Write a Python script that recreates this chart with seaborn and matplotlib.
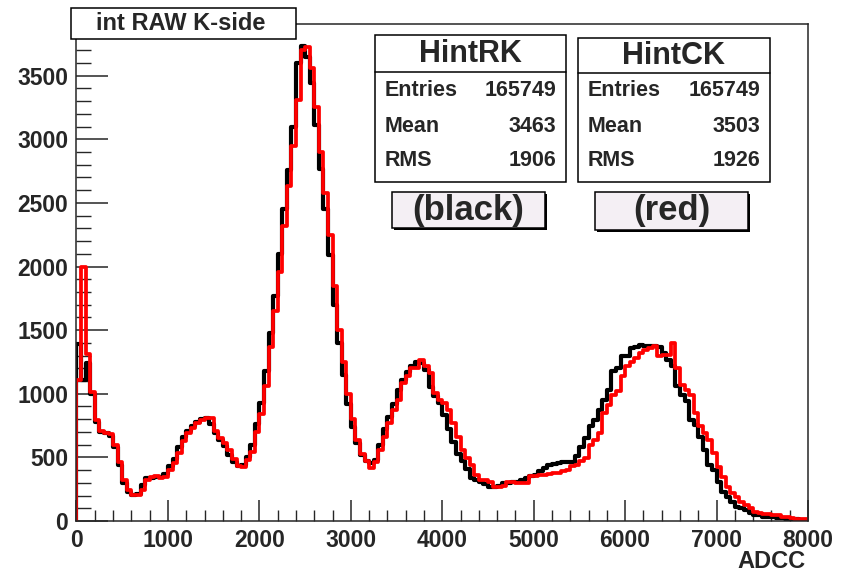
import numpy as np
import pandas as pd
import matplotlib
matplotlib.use("Agg")
import matplotlib.pyplot as plt
from matplotlib.patches import Rectangle
from matplotlib.ticker import MultipleLocator
import seaborn as sns

# histogram binning (ADCC, 160 bins of 50)
BIN_WIDTH = 50
edges = np.arange(0, 8001, BIN_WIDTH)
centers = edges[:-1] + BIN_WIDTH / 2

# HintRK (black) bin contents
hint_rk = [
    1390, 1110, 1240, 1000, 780, 700, 690, 670, 580, 440,
    300, 225, 205, 215, 280, 335, 340, 345, 345, 370,
    430, 490, 580, 660, 710, 750, 780, 800, 810, 760,
    690, 640, 590, 520, 460, 430, 440, 500, 600, 760,
    930, 1180, 1480, 1770, 2100, 2450, 2760, 3100, 3600, 3730,
    3650, 3440, 3110, 2770, 2450, 2090, 1700, 1400, 1150, 920,
    740, 610, 520, 470, 455, 480, 600, 720, 820, 920,
    1030, 1110, 1170, 1220, 1250, 1240, 1190, 1050, 980, 930,
    830, 720, 620, 530, 470, 410, 340, 320, 305, 290,
    265, 265, 275, 300, 300, 310, 310, 320, 340, 350,
    365, 390, 420, 440, 445, 454, 460, 467, 467, 507,
    585, 651, 743, 795, 870, 953, 1031, 1176, 1202, 1294,
    1300, 1360, 1370, 1386, 1373, 1373, 1373, 1370, 1320, 1268,
    1215, 1058, 992, 940, 795, 756, 664, 559, 441, 402,
    310, 231, 191, 152, 113, 100, 87, 66, 47, 47,
    34, 34, 30, 21, 21, 18, 15, 12, 10, 8,
]

# HintCK (red) bin contents
hint_ck = [
    1110, 2000, 1310, 1010, 790, 710, 690, 680, 600, 460,
    320, 240, 205, 205, 240, 320, 345, 350, 340, 345,
    400, 455, 535, 625, 690, 730, 770, 790, 810, 810,
    705, 655, 615, 560, 485, 430, 425, 480, 540, 700,
    840, 1060, 1370, 1650, 1960, 2320, 2630, 2950, 3310, 3700,
    3722, 3560, 3250, 2900, 2580, 2250, 1845, 1500, 1250, 1000,
    800, 640, 530, 475, 420, 460, 559, 664, 769, 874,
    953, 1084, 1136, 1202, 1202, 1268, 1215, 1163, 1005, 953,
    930, 874, 769, 664, 559, 499, 443, 365, 323, 323,
    310, 270, 270, 275, 310, 310, 296, 296, 300, 352,
    352, 365, 365, 370, 381, 381, 390, 400, 430, 441,
    470, 493, 598, 638, 690, 848, 913, 992, 1018, 1136,
    1215, 1250, 1281, 1320, 1346, 1360, 1378, 1294, 1307, 1307,
    1399, 1202, 1071, 1031, 992, 848, 743, 690, 638, 533,
    428, 349, 270, 218, 191, 152, 126, 100, 73, 60,
    52, 52, 47, 47, 34, 34, 21, 18, 15, 12,
]

hist_names = ["HintRK", "HintCK"]
hist_entries = ["165749", "165749"]
hist_means = ["3463", "3503"]
hist_rms = ["1906", "1926"]
hist_tags = ["(black)", "(red)"]

sns.set_style("ticks")
plt.rcParams["font.family"] = ["Liberation Sans", "DejaVu Sans"]
plt.rcParams["font.weight"] = "bold"

W, H = 853, 571
fig = plt.figure(figsize=(W / 100, H / 100), dpi=100)
ax = fig.add_axes([76.5 / W, 1 - 521 / H, (808 - 76.5) / W, (521 - 24) / H])

for vals, col, lw in [(hint_rk, "black", 3.0), (hint_ck, "#ff0000", 2.7)]:
    df = pd.DataFrame({"adcc": centers, "counts": vals})
    sns.histplot(data=df, x="adcc", weights="counts", binwidth=BIN_WIDTH,
                 binrange=(edges[0], edges[-1]), element="step",
                 fill=False, color=col, linewidth=lw, ax=ax)
    ax.vlines(edges[0], 0, vals[0], color=col, linewidth=lw)

ax.set_xlim(0, 8000)
ax.set_ylim(0, 3906)
ax.set_ylabel("")
ax.set_xlabel("")
ax.xaxis.set_major_locator(MultipleLocator(1000))
ax.xaxis.set_minor_locator(MultipleLocator(200))
ax.yaxis.set_major_locator(MultipleLocator(500))
ax.yaxis.set_minor_locator(MultipleLocator(100))
ax.tick_params(axis="y", which="major", direction="in", length=23, width=1.1, pad=6, labelsize=16.5)
ax.tick_params(axis="y", which="minor", direction="in", length=11, width=1.0)
ax.tick_params(axis="x", which="major", direction="in", length=15, width=1.1, pad=6, labelsize=16.5)
ax.tick_params(axis="x", which="minor", direction="in", length=8, width=1.0)
for lab in ax.get_xticklabels() + ax.get_yticklabels():
    lab.set_fontweight("bold")
for sp in ax.spines.values():
    sp.set_visible(True)
    sp.set_linewidth(1.1)

fig.text(806 / W, 1 - 561 / H, "ADCC", ha="right", va="center", fontsize=17, fontweight="bold")


def fbox(x0, y0, x1, y1, fc="white", lw=1.1, shadow=0):
    if shadow:
        fig.add_artist(Rectangle(((x0 + shadow) / W, 1 - (y1 + shadow) / H), (x1 - x0) / W,
                                 (y1 - y0) / H, transform=fig.transFigure,
                                 facecolor="black", edgecolor="none", zorder=5))
    fig.add_artist(Rectangle((x0 / W, 1 - y1 / H), (x1 - x0) / W, (y1 - y0) / H,
                             transform=fig.transFigure, facecolor=fc, edgecolor="black",
                             linewidth=lw, zorder=6))


def ftext(x, y, s, size, ha="center"):
    fig.text(x / W, 1 - y / H, s, ha=ha, va="center", fontsize=size, fontweight="bold", zorder=7)


# title box
fbox(71, 8, 296, 39)
ftext(181, 23, "int RAW K-side", 17)

# stat boxes
stat_boxes = [(375, 35, 566, 182, 72), (578, 38, 770, 182, 73)]
for i, (x0, y0, x1, y1, yl) in enumerate(stat_boxes):
    fbox(x0, y0, x1, y1)
    fig.add_artist(plt.Line2D([x0 / W, x1 / W], [1 - yl / H, 1 - yl / H],
                              transform=fig.transFigure, color="black", linewidth=1.1, zorder=7))
    ftext((x0 + x1) / 2, (y0 + yl) / 2 + 1, hist_names[i], 22)
    rows = [("Entries", hist_entries[i]), ("Mean", hist_means[i]), ("RMS", hist_rms[i])]
    for k, (name, val) in enumerate(rows):
        yy = 91 + 35 * k
        ftext(x0 + 10, yy, name, 15.5, ha="left")
        ftext(x1 - 10, yy, val, 15.5, ha="right")

tag_boxes = [(392, 192, 545, 228), (595, 192, 748, 230)]
for i, (x0, y0, x1, y1) in enumerate(tag_boxes):
    fbox(x0, y0, x1, y1, fc="#f4eff4", shadow=2)
    ftext((x0 + x1) / 2, (y0 + y1) / 2, hist_tags[i], 25)

fig.savefig("out.png", dpi=100)
